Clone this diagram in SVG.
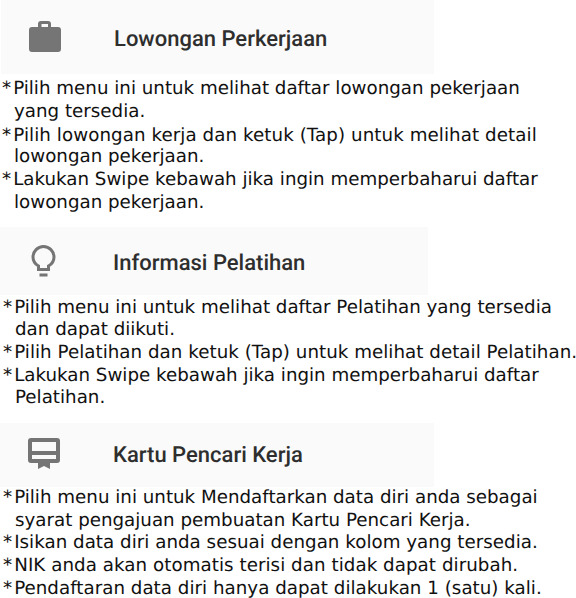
<svg xmlns="http://www.w3.org/2000/svg" width="576" height="598" viewBox="0 0 576 598">
<style>
.b{fill:#fafafa}
.h{font-family:Roboto,"Liberation Sans",sans-serif;font-size:22px;font-weight:500;fill:#2e2e2e;text-rendering:geometricPrecision}
.t{font-family:"DejaVu Sans",Verdana,sans-serif;font-size:18.25px;fill:#111;text-rendering:geometricPrecision}
.i{fill:#757575}
.s{fill:none;stroke:#757575;stroke-width:3}
</style>
<rect width="576" height="598" fill="#fff"/>
<g id="header-lowongan">
<rect class="b" x="1" y="0" width="433" height="74"/>
<path class="i" d="M32 27h6v-3q0-3 3-3h7q3 0 3 3v3h7q3 0 3 3v19q0 3-3 3H32q-3 0-3-3V30q0-3 3-3zM41.500 27h6.500v-3h-6.500z" fill-rule="evenodd"/>
<text class="h" x="114" y="46">Lowongan Perkerjaan</text>
</g>
<g id="text-lowongan" class="t">
<text x="2" y="94.300">*<tspan dx="2">Pilih menu ini untuk melihat daftar lowongan pekerjaan</tspan></text>
<text x="14" y="116.500">yang tersedia.</text>
<text x="2" y="140.500" letter-spacing="0.07">*<tspan dx="2">Pilih lowongan kerja dan ketuk (Tap) untuk melihat detail</tspan></text>
<text x="14" y="162">lowongan pekerjaan.</text>
<text x="2" y="185">*<tspan dx="2">Lakukan Swipe kebawah jika ingin memperbaharui daftar</tspan></text>
<text x="14" y="207.500">lowongan pekerjaan.</text>
</g>
<g id="header-pelatihan">
<rect class="b" x="0" y="227" width="428" height="68"/>
<path class="s" d="M38.500 269.500v-3.500q-5.500-3-5.500-9a10.500 10.500 0 0 1 21 0q0 6-5.500 9v3.500z"/>
<rect class="i" x="39.500" y="273.500" width="8" height="3"/>
<text class="h" x="113" y="270">Informasi Pelatihan</text>
</g>
<g id="text-pelatihan" class="t">
<text x="3" y="313">*<tspan dx="2">Pilih menu ini untuk melihat daftar Pelatihan yang tersedia</tspan></text>
<text x="15" y="335">dan dapat diikuti.</text>
<text x="3" y="358" letter-spacing="0.03">*<tspan dx="2">Pilih Pelatihan dan ketuk (Tap) untuk melihat detail Pelatihan.</tspan></text>
<text x="3" y="381">*<tspan dx="2">Lakukan Swipe kebawah jika ingin memperbaharui daftar</tspan></text>
<text x="15" y="403">Pelatihan.</text>
</g>
<g id="header-kartu">
<rect class="b" x="0" y="423" width="434" height="64"/>
<path class="i" d="M31 438h26q3 0 3 3v19q0 3-3 3h-7v6l-6-3-6 3v-6h-7q-3 0-3-3v-19q0-3 3-3zM32 442v9h24v-9zM32 455v4h24v-4z" fill-rule="evenodd"/>
<text class="h" x="113" y="462">Kartu Pencari Kerja</text>
</g>
<g id="text-kartu" class="t">
<text x="3" y="502.500">*<tspan dx="2">Pilih menu ini untuk Mendaftarkan data diri anda sebagai</tspan></text>
<text x="15" y="525.700">syarat pengajuan pembuatan Kartu Pencari Kerja.</text>
<text x="3" y="548" letter-spacing="0.02">*<tspan dx="2">Isikan data diri anda sesuai dengan kolom yang tersedia.</tspan></text>
<text x="3" y="571.300" letter-spacing="0.05">*<tspan dx="2">NIK anda akan otomatis terisi dan tidak dapat dirubah.</tspan></text>
<text x="3" y="594" letter-spacing="0.02">*<tspan dx="2">Pendaftaran data diri hanya dapat dilakukan 1 (satu) kali.</tspan></text>
</g>
</svg>
